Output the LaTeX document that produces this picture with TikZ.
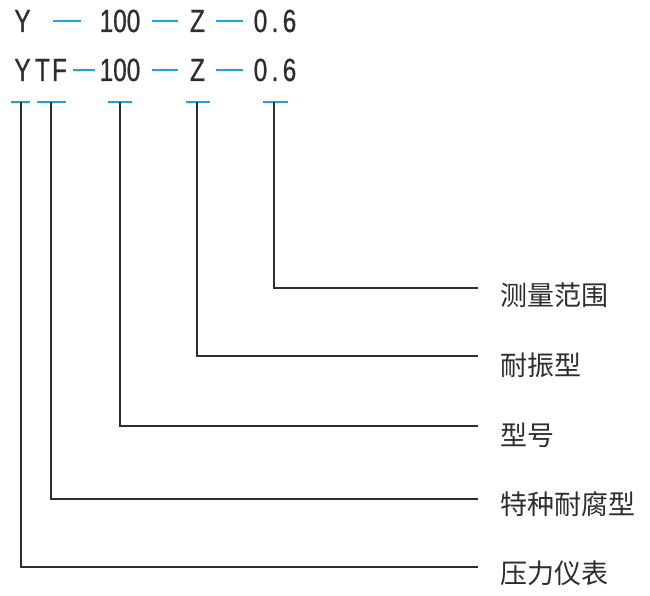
\documentclass[tikz,border=0pt]{standalone}
\usepackage{fontspec}
\newfontfamily\cjk{Noto Sans CJK SC}
\newfontfamily\codefont[FakeStretch=0.76,FakeBold=0.8]{Liberation Sans}
\definecolor{tickcyan}{RGB}{30,165,215}
\definecolor{inkgray}{RGB}{45,45,50}
\begin{document}
\begin{tikzpicture}[x=1pt,y=-1pt,
  code/.style={inner sep=0pt,anchor=base,text=inkgray,font=\codefont\fontsize{32}{32}\selectfont},
  lbl/.style={inner sep=0pt,anchor=west,text=inkgray,font=\cjk\fontsize{27}{27}\selectfont},
  sep/.style={draw=tickcyan,line width=1.8pt},
  conn/.style={draw=inkgray,line width=1.3pt}]
\useasboundingbox (0,0) rectangle (650,596);
% row 1
\node[code] (r1y) at (22.5,32) {Y};
\node[code] (r1n) at (120,32) {100};
\node[code] (r1z) at (197.5,32) {Z};
\node[code] (r1a) at (260.5,32) {0};
\node[code] (r1b) at (275,32) {.};
\node[code] (r1c) at (289.5,32) {6};
\draw[sep] (53,21) -- (81,21);
\draw[sep] (152,21) -- (178,21);
\draw[sep] (216,21) -- (243,21);
% row 2
\node[code] (r2y) at (22.5,81) {Y};
\node[code] (r2t) at (42.5,81) {T};
\node[code] (r2f) at (59.5,81) {F};
\node[code] (r2n) at (120,81) {100};
\node[code] (r2z) at (197.5,81) {Z};
\node[code] (r2a) at (260.5,81) {0};
\node[code] (r2b) at (275,81) {.};
\node[code] (r2c) at (289.5,81) {6};
\draw[sep] (73,70) -- (95,70);
\draw[sep] (152,70) -- (178,70);
\draw[sep] (216,70) -- (243,70);
% tick bars
\draw[sep] (11,102) -- (30,102);
\draw[sep] (37,102) -- (66,102);
\draw[sep] (108,102) -- (132,102);
\draw[sep] (186,102) -- (210,102);
\draw[sep] (263,102) -- (288,102);
\coordinate (t1) at (21,102);
\coordinate (t2) at (51,102);
\coordinate (t3) at (120,102);
\coordinate (t4) at (197,102);
\coordinate (t5) at (274,102);
% labels
\node[lbl] (l5) at (500,295) {测量范围};
\node[lbl] (l4) at (500,365) {耐振型};
\node[lbl] (l3) at (500,435) {型号};
\node[lbl] (l2) at (500,504) {特种耐腐型};
\node[lbl] (l1) at (500,573) {压力仪表};
\coordinate (e5) at (478,288);
\coordinate (e4) at (478,356);
\coordinate (e3) at (478,426);
\coordinate (e2) at (478,499);
\coordinate (e1) at (478,567);
% connectors
\draw[conn] (t5) |- (e5);
\draw[conn] (t4) |- (e4);
\draw[conn] (t3) |- (e3);
\draw[conn] (t2) |- (e2);
\draw[conn] (t1) |- (e1);
\end{tikzpicture}
\end{document}
